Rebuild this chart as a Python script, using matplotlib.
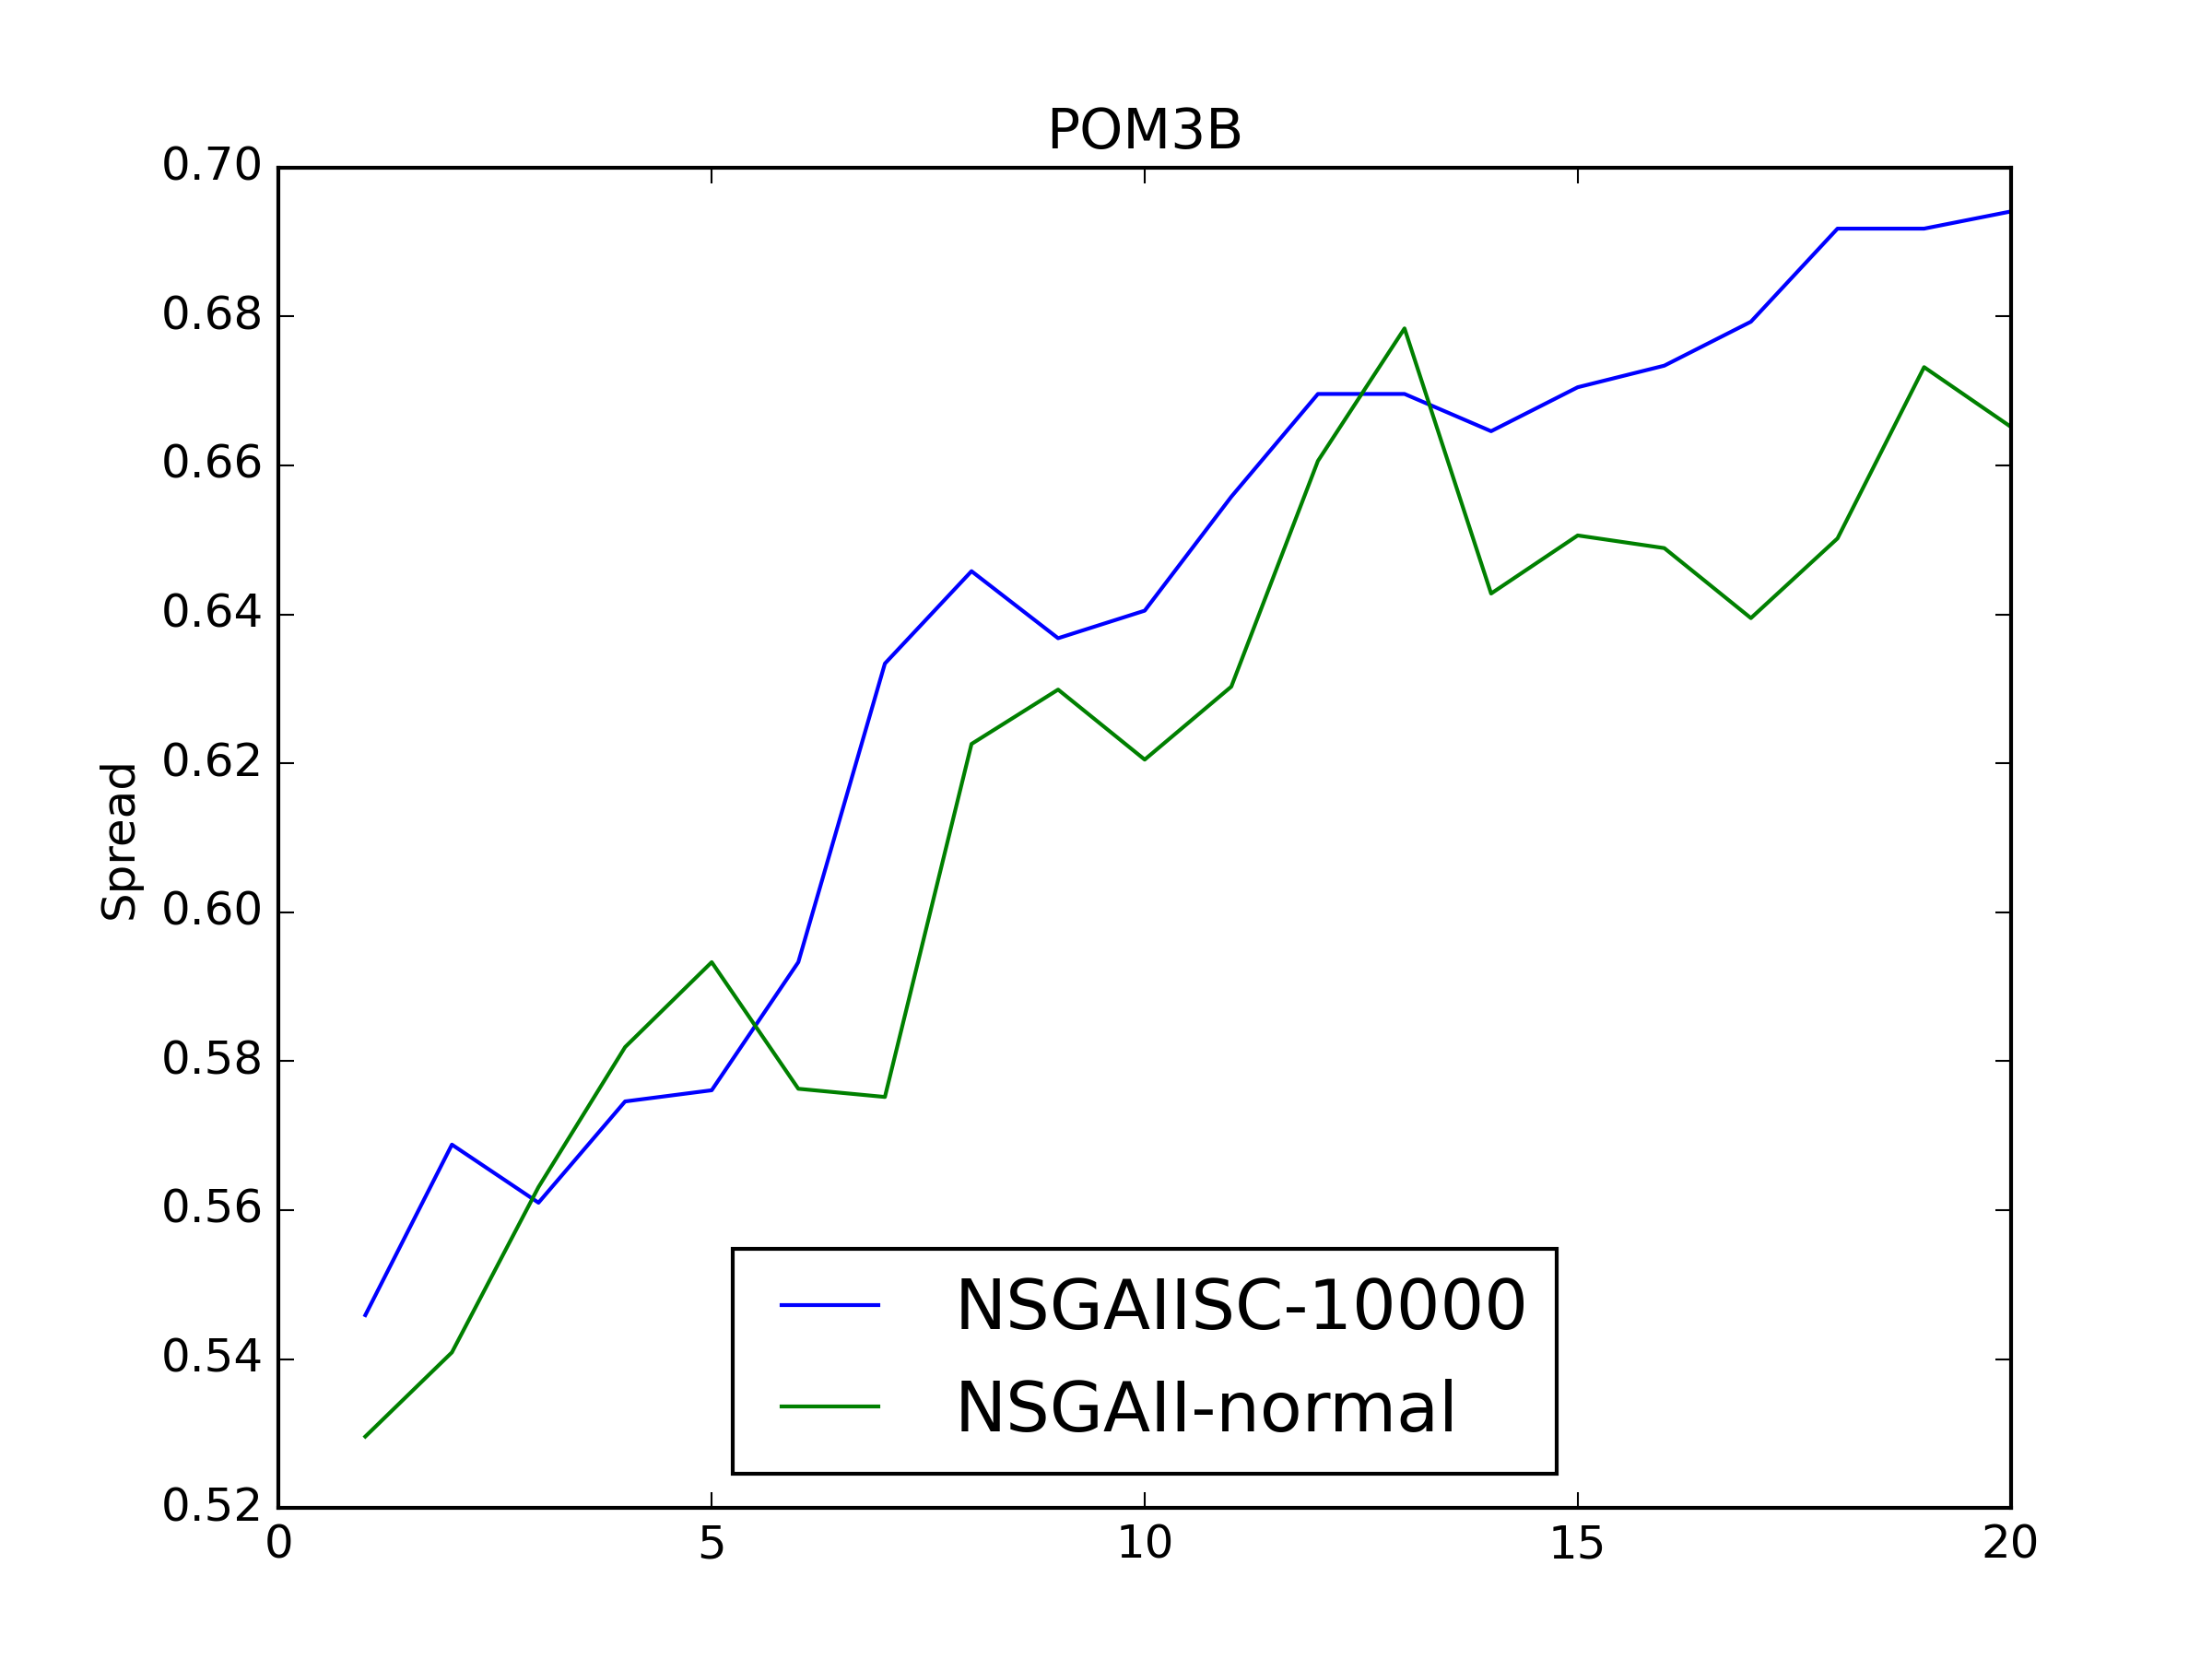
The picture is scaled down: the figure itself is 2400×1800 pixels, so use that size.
import matplotlib
matplotlib.use('Agg')
import matplotlib.pyplot as plt

plt.style.use('classic')

x = list(range(1, 21))
nsgaiisc = [0.5459, 0.5688, 0.5610, 0.5746, 0.5761, 0.5933, 0.6334, 0.6458, 0.6368, 0.6405,
            0.6558, 0.6696, 0.6696, 0.6646, 0.6705, 0.6734, 0.6793, 0.6918, 0.6918, 0.6941]
nsgaii = [0.5296, 0.5409, 0.5631, 0.5819, 0.5933, 0.5763, 0.5752, 0.6226, 0.6299, 0.6205,
          0.6303, 0.6606, 0.6784, 0.6428, 0.6506, 0.6489, 0.6395, 0.6502, 0.6732, 0.6652]

fig = plt.figure(figsize=(8, 6))
ax = fig.add_subplot(111)
ax.set_position([0.126, 0.091, 0.783, 0.808])

ax.plot(x, nsgaiisc, color='b', label='NSGAIISC-10000')
ax.plot(x, nsgaii, color='g', label='NSGAII-normal')

ax.set_xlim(0, 20)
ax.set_ylim(0.52, 0.70)
ax.set_xticks([0, 5, 10, 15, 20])
ax.set_yticks([0.52 + 0.02 * i for i in range(10)])
ax.set_yticklabels(['%.2f' % (0.52 + 0.02 * i) for i in range(10)])
ax.set_ylabel('Spread')
ax.set_title('POM3B')
ax.legend(loc='lower center', fontsize=18)

fig.savefig('out.png', dpi=300)
plt.close('all')
